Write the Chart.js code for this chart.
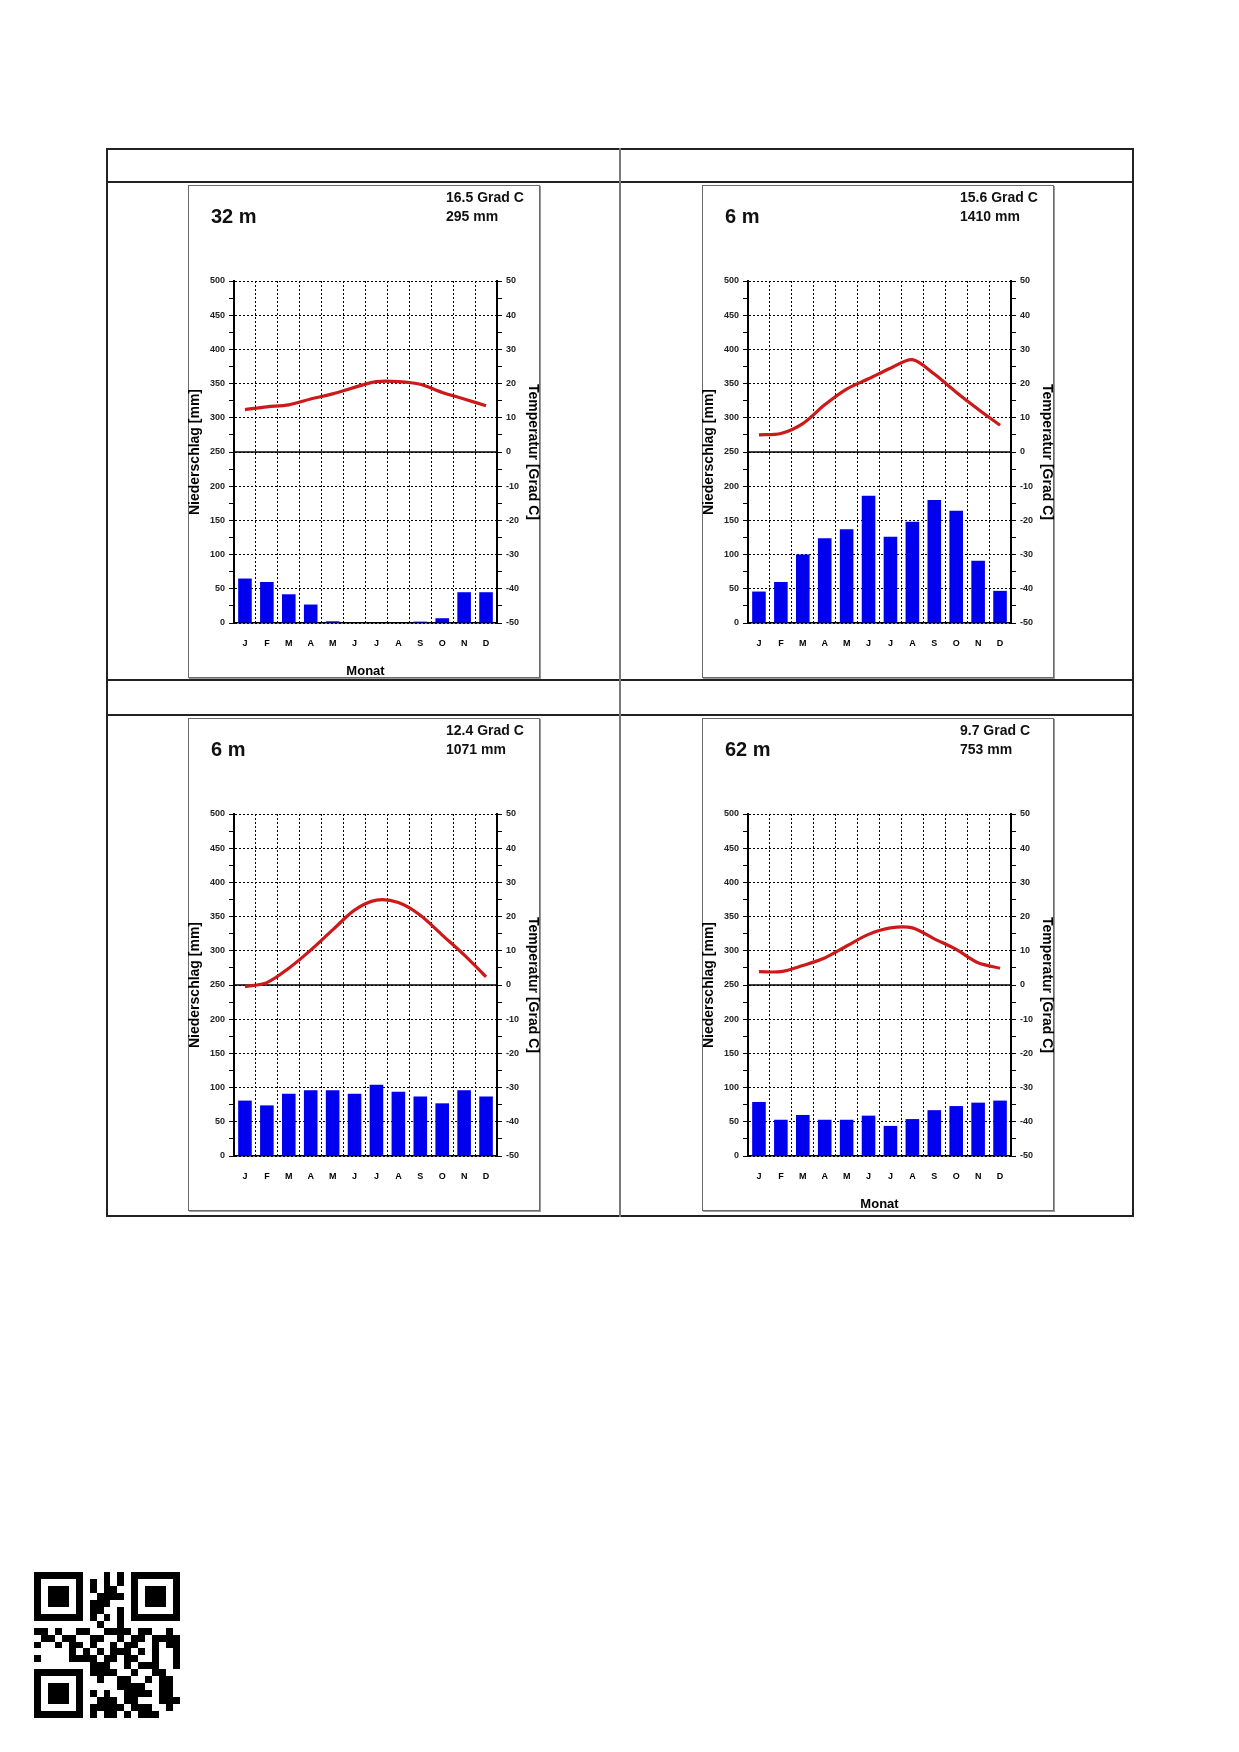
<!DOCTYPE html>
<html>
<head>
<meta charset="utf-8">
<script src="https://cdn.jsdelivr.net/npm/chart.js@4.4.0/dist/chart.umd.min.js"></script>
<style>
    body { margin: 0; background: #fff; font-family: "Liberation Sans", Arial, sans-serif; }
    #page { position: relative; width: 1239px; height: 1752px; overflow: hidden; }
    .rule { position: absolute; background: #222; }
    .box { position: absolute; width: 352px; height: 493px; box-sizing: border-box;
           border: 1px solid #6a6a6a; box-shadow: 1px 1px 0 #9a9a9a; background: #fff; }
    .box canvas { position: absolute; left: -1px; top: -1px; }
    .elev { position: absolute; left: 22px; top: 19px; font-size: 20px; font-weight: bold; color: #111; }
    .stat { position: absolute; left: 257px; top: 2px; font-size: 14px; font-weight: bold; line-height: 19px; color: #111; }
    #qr { position: absolute; left: 34px; top: 1572px; }
</style>
</head>
<body>
<div id="page">
    <!-- table frame -->
    <div class="rule" style="left:106px;top:148px;width:1028px;height:2px"></div>
    <div class="rule" style="left:106px;top:181px;width:1028px;height:2px"></div>
    <div class="rule" style="left:106px;top:679px;width:1028px;height:2px"></div>
    <div class="rule" style="left:106px;top:714px;width:1028px;height:2px"></div>
    <div class="rule" style="left:106px;top:1215px;width:1028px;height:2px"></div>
    <div class="rule" style="left:106px;top:148px;width:2px;height:1069px"></div>
    <div class="rule" style="left:1132px;top:148px;width:2px;height:1069px"></div>
    <div class="rule" style="left:619px;top:148px;width:2px;height:1069px;background:#7a7a7a"></div>

    <div class="box" style="left:188px;top:185px">
        <canvas id="chart1" width="352" height="493"></canvas>
        <div class="elev" id="elev1"></div>
        <div class="stat" id="stat1"></div>
    </div>
    <div class="box" style="left:702px;top:185px">
        <canvas id="chart2" width="352" height="493"></canvas>
        <div class="elev" id="elev2"></div>
        <div class="stat" id="stat2"></div>
    </div>
    <div class="box" style="left:188px;top:718px">
        <canvas id="chart3" width="352" height="493"></canvas>
        <div class="elev" id="elev3"></div>
        <div class="stat" id="stat3"></div>
    </div>
    <div class="box" style="left:702px;top:718px">
        <canvas id="chart4" width="352" height="493"></canvas>
        <div class="elev" id="elev4"></div>
        <div class="stat" id="stat4"></div>
    </div>

    <canvas id="qr" width="146" height="146"></canvas>
</div>

<script>
const months = ['J', 'F', 'M', 'A', 'M', 'J', 'J', 'A', 'S', 'O', 'N', 'D'];

const elevations = ['32 m', '6 m', '6 m', '62 m'];
const meanTemps = ['16.5 Grad C', '15.6 Grad C', '12.4 Grad C', '9.7 Grad C'];
const totalPrecip = ['295 mm', '1410 mm', '1071 mm', '753 mm'];

// precipitation in mm, temperature in Grad C
const precip1 = [65, 60, 42, 27, 2.5, 0, 0, 0, 2, 7, 45, 45];
const temp1 = [12.4, 13.2, 13.8, 15.5, 17.0, 18.9, 20.6, 20.6, 19.8, 17.4, 15.5, 13.5];

const precip2 = [46, 60, 100, 124, 137, 186, 126, 148, 180, 164, 91, 47];
const temp2 = [5.0, 5.4, 8.3, 13.8, 18.4, 21.4, 24.5, 27.0, 22.8, 17.5, 12.5, 7.8];

const precip3 = [81, 74, 91, 96, 96, 91, 104, 94, 87, 77, 96, 87];
const temp3 = [-0.5, 0.7, 4.9, 10.2, 16.1, 21.9, 24.8, 24.1, 20.4, 14.6, 8.8, 2.4];

const precip4 = [79, 53, 60, 53, 53, 59, 44, 54, 67, 73, 78, 81];
const temp4 = [3.9, 3.9, 5.7, 7.9, 11.4, 14.8, 16.7, 16.7, 13.5, 10.4, 6.5, 4.9];

const precipRange = [0, 500];
const tempRange = [-50, 50];

// solid line at 0 Grad C
const zeroLine = {
    id: 'zeroLine',
    beforeDatasetsDraw(chart) {
        const { ctx, chartArea, scales } = chart;
        const y = scales.y1.getPixelForValue(0);
        ctx.save();
        ctx.strokeStyle = '#000';
        ctx.lineWidth = 1.5;
        ctx.beginPath();
        ctx.moveTo(chartArea.left, y);
        ctx.lineTo(chartArea.right, y);
        ctx.stroke();
        ctx.restore();
    }
};

function climateChart(id, precip, temp, showMonat) {
    const ctx = document.getElementById(id).getContext('2d');
    return new Chart(ctx, {
        data: {
            labels: months,
            datasets: [{
                type: 'line',
                data: temp,
                yAxisID: 'y1',
                borderColor: '#cc1a1a',
                borderWidth: 3.2,
                pointRadius: 0,
                tension: 0.3,
                order: 0
            }, {
                type: 'bar',
                data: precip,
                yAxisID: 'y',
                backgroundColor: '#0000ee',
                categoryPercentage: 1,
                barPercentage: 0.62,
                order: 1
            }]
        },
        options: {
            responsive: false,
            animation: false,
            layout: { padding: { top: 96, left: 0, right: 0, bottom: 0 } },
            plugins: {
                legend: { display: false },
                tooltip: { enabled: false }
            },
            scales: {
                x: {
                    offset: true,
                    grid: { offset: true, color: '#000', lineWidth: 1, drawTicks: false },
                    border: { color: '#000', width: 1.5, dash: [2, 2] },
                    ticks: { color: '#000', padding: 15, font: { size: 9, weight: 'bold' } },
                    title: {
                        display: showMonat,
                        text: 'Monat',
                        color: '#000',
                        padding: 0,
                        font: { size: 13, weight: 'bold', lineHeight: 1 }
                    },
                    afterFit(scale) { scale.height = 55; }
                },
                y: {
                    position: 'left',
                    min: precipRange[0],
                    max: precipRange[1],
                    grid: {
                        color: c => (c.tick && c.tick.value % 50 === 0) ? '#000' : 'rgba(0,0,0,0)',
                        tickColor: '#000',
                        tickLength: 5,
                        lineWidth: 1
                    },
                    border: { color: '#000', width: 2, dash: [2, 2] },
                    ticks: {
                        stepSize: 25,
                        autoSkip: false,
                        padding: 4,
                        color: '#222',
                        font: { size: 9, weight: 'bold' },
                        callback: v => v % 50 === 0 ? v : ''
                    },
                    title: {
                        display: true,
                        text: 'Niederschlag [mm]',
                        color: '#000',
                        padding: 0,
                        font: { size: 14, weight: 'bold', lineHeight: 1 }
                    },
                    afterFit(scale) { scale.width = 46; }
                },
                y1: {
                    position: 'right',
                    min: tempRange[0],
                    max: tempRange[1],
                    grid: { drawOnChartArea: false, tickColor: '#000', tickLength: 5 },
                    border: { color: '#000', width: 2 },
                    ticks: {
                        stepSize: 5,
                        autoSkip: false,
                        padding: 4,
                        color: '#222',
                        font: { size: 9, weight: 'bold' },
                        callback: v => v % 10 === 0 ? v : ''
                    },
                    title: {
                        display: true,
                        text: 'Temperatur [Grad C]',
                        color: '#000',
                        padding: 0,
                        font: { size: 14, weight: 'bold', lineHeight: 1 }
                    },
                    afterFit(scale) { scale.width = 43; }
                }
            }
        },
        plugins: [zeroLine]
    });
}

climateChart('chart1', precip1, temp1, true);
climateChart('chart2', precip2, temp2, false);
climateChart('chart3', precip3, temp3, false);
climateChart('chart4', precip4, temp4, true);

for (let i = 0; i < 4; i++) {
    document.getElementById('elev' + (i + 1)).textContent = elevations[i];
    document.getElementById('stat' + (i + 1)).innerHTML = meanTemps[i] + '<br>' + totalPrecip[i];
}

// QR code in the page corner
const qrRows = [
    '111111100010101111111',
    '100000101010101000001',
    '101110101011001011101',
    '101110100111101011101',
    '101110101110001011101',
    '100000101100101000001',
    '111111101010101111111',
    '000000000100100000000',
    '110100110011110110010',
    '011011001100101101111',
    '100101101001011001011',
    '000001010101110101001',
    '100001111011011001001',
    '000000001110010111001',
    '111111101111001001100',
    '100000100100110010110',
    '101110100000111100110',
    '101110101010011110110',
    '101110100111011000111',
    '100000101111101110010',
    '111111101011010111000'
];
const qctx = document.getElementById('qr').getContext('2d');
const cell = 146 / 21;
qctx.fillStyle = '#000';
qrRows.forEach((row, r) => {
    for (let c = 0; c < row.length; c++) {
        if (row[c] === '1') {
            qctx.fillRect(Math.round(c * cell), Math.round(r * cell),
                Math.round((c + 1) * cell) - Math.round(c * cell),
                Math.round((r + 1) * cell) - Math.round(r * cell));
        }
    }
});
</script>
</body>
</html>
